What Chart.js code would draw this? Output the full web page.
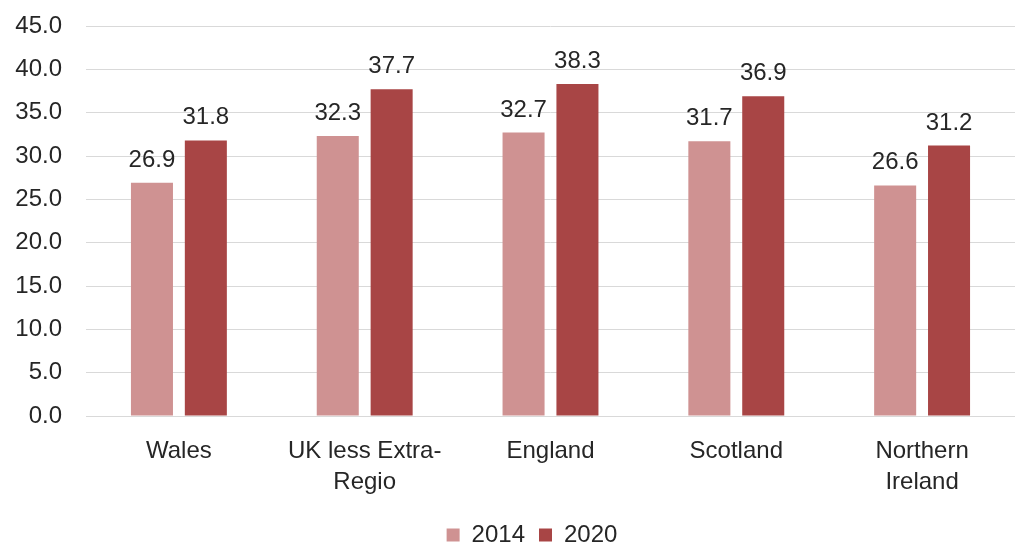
<!DOCTYPE html>
<html>
<head>
<meta charset="utf-8">
<script src="https://cdn.jsdelivr.net/npm/chart.js@4/dist/chart.umd.min.js"></script>
<style>
  html, body { margin: 0; padding: 0; background: #fff; }
  #wrap { width: 1015px; height: 545px; }
</style>
</head>
<body>
<div id="wrap"><canvas id="chart"></canvas></div>
<script>
const categories = ["Wales", "UK less Extra-Regio", "England", "Scotland", "Northern Ireland"];
const categoryLabels = [["Wales"], ["UK less Extra-", "Regio"], ["England"], ["Scotland"], ["Northern", "Ireland"]];
const values2014 = [26.9, 32.3, 32.7, 31.7, 26.6];
const values2020 = [31.8, 37.7, 38.3, 36.9, 31.2];
const yTicks = [0, 5, 10, 15, 20, 25, 30, 35, 40, 45];

const FONT = "Arial, 'Liberation Sans', sans-serif";
const SIZE = 24;

// value labels above each bar
const barLabels = {
  id: "barLabels",
  afterDatasetsDraw(chart) {
    const ctx = chart.ctx;
    ctx.save();
    ctx.font = SIZE + "px " + FONT;
    ctx.fillStyle = "#262626";
    ctx.textAlign = "center";
    ctx.textBaseline = "alphabetic";
    chart.data.datasets.forEach((ds, i) => {
      chart.getDatasetMeta(i).data.forEach((bar, j) => {
        ctx.fillText(ds.data[j].toFixed(1), bar.x, bar.y - 16);
      });
    });
    ctx.restore();
  },
};

// the legend in the original sits a little right of centre
const legendShift = {
  id: "legendShift",
  afterLayout(chart) {
    chart.legend.left += 20;
    chart.legend.right += 20;
  },
};

new Chart(document.getElementById("chart"), {
  type: "bar",
  data: {
    labels: categoryLabels,
    datasets: [
      { label: "2014", data: values2014, backgroundColor: "#cf9292" },
      { label: "2020", data: values2020, backgroundColor: "#a84545" },
    ],
  },
  options: {
    responsive: true,
    maintainAspectRatio: false,
    animation: false,
    layout: { autoPadding: false, padding: { top: 26, right: -9, left: 0, bottom: -12 } },
    datasets: { bar: { categoryPercentage: 0.58, barPercentage: 0.78 } },
    plugins: {
      legend: {
        position: "bottom",
        labels: {
          font: { family: FONT, size: SIZE },
          color: "#262626",
          boxWidth: 13,
          boxHeight: 13,
          padding: 14,
        },
      },
      tooltip: { enabled: false },
    },
    scales: {
      x: {
        grid: { display: false },
        border: { color: "#d9d9d9" },
        ticks: {
          font: { family: FONT, size: SIZE, lineHeight: 1.3 },
          color: "#262626",
          maxRotation: 0,
          autoSkip: false,
          padding: 12,
        },
        afterFit: (s) => { s.height = 93; },
      },
      y: {
        min: 0,
        max: 45,
        afterBuildTicks: (s) => { s.ticks = yTicks.map((v) => ({ value: v })); },
        grid: { color: "#d9d9d9", drawTicks: false },
        border: { display: false },
        ticks: {
          font: { family: FONT, size: SIZE },
          color: "#262626",
          padding: 24,
          callback: (v) => Number(v).toFixed(1),
        },
        afterFit: (s) => {
          s.width = 86;
          s.paddingTop = 12;
          s.paddingBottom = 12;
        },
      },
    },
  },
  plugins: [barLabels, legendShift],
});
</script>
</body>
</html>
